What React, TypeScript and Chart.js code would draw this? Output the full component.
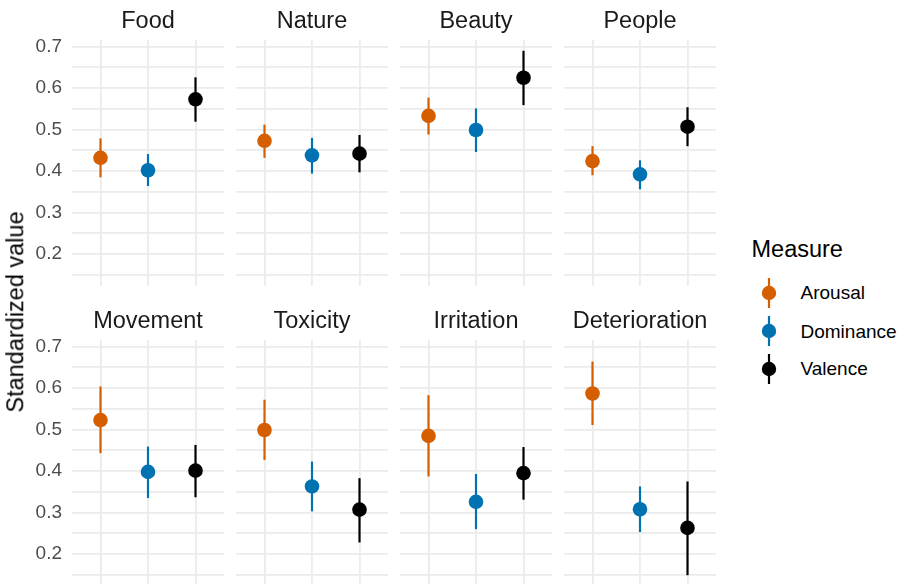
import React, { useEffect, useRef } from 'react';
import { Chart, registerables } from 'chart.js';

Chart.register(...registerables);

// ---------------- data ----------------
const facets = ['Food', 'Nature', 'Beauty', 'People', 'Movement', 'Toxicity', 'Irritation', 'Deterioration'];
const measures = ['Arousal', 'Dominance', 'Valence'];
const measureColors = ['#D55E00', '#0072B2', '#000000'];

const arousalMean = [0.432, 0.473, 0.533, 0.424, 0.523, 0.499, 0.485, 0.587];
const arousalLow = [0.385, 0.432, 0.488, 0.390, 0.443, 0.427, 0.387, 0.511];
const arousalHigh = [0.479, 0.512, 0.577, 0.460, 0.604, 0.572, 0.583, 0.664];

const dominanceMean = [0.402, 0.438, 0.499, 0.392, 0.398, 0.363, 0.326, 0.308];
const dominanceLow = [0.364, 0.394, 0.446, 0.356, 0.335, 0.303, 0.260, 0.253];
const dominanceHigh = [0.441, 0.480, 0.551, 0.426, 0.459, 0.423, 0.393, 0.363];

const valenceMean = [0.573, 0.442, 0.625, 0.507, 0.401, 0.307, 0.395, 0.263];
const valenceLow = [0.519, 0.397, 0.559, 0.460, 0.337, 0.228, 0.331, 0.149];
const valenceHigh = [0.626, 0.487, 0.690, 0.554, 0.463, 0.383, 0.458, 0.375];

const yTicks = [0.15, 0.2, 0.25, 0.3, 0.35, 0.4, 0.45, 0.5, 0.55, 0.6, 0.65, 0.7];
const yMin = 0.123;
const yMax = 0.716;

const yTitle = 'Standardized value';
const legendTitle = 'Measure';

// ---------------- layout / style ----------------
const FONT = '"Liberation Sans", Arial, Helvetica, sans-serif';
const PANEL_LEFT0 = 72;
const PANEL_PITCH = 164;
const PANEL_W = 152;
const PANEL_H = 246;
const STRIP_H = 40;
const ROW_PITCH = 300;
const GRID = '#EBEBEB';
const GRID_W = 1.8;

function Panel({ index }: { index: number }) {
  const ref = useRef<HTMLCanvasElement>(null);
  const col = index % 4;
  const row = Math.floor(index / 4);
  const isLeft = col === 0;
  const axisW = isLeft ? PANEL_LEFT0 : 0;
  const canvasLeft = isLeft ? 0 : PANEL_LEFT0 + col * PANEL_PITCH;
  const canvasW = axisW + PANEL_W;
  const canvasTop = row * ROW_PITCH;
  const canvasH = STRIP_H + PANEL_H;

  useEffect(() => {
    const means = [arousalMean, dominanceMean, valenceMean];
    const lows = [arousalLow, dominanceLow, valenceLow];
    const highs = [arousalHigh, dominanceHigh, valenceHigh];

    const errorBars = {
      id: 'errorBars',
      beforeDatasetsDraw(chart: any) {
        const ctx = chart.ctx;
        const xs = chart.scales.x;
        const ys = chart.scales.y;
        ctx.save();
        ctx.lineWidth = 2.2;
        ctx.lineCap = 'butt';
        measures.forEach((_, k) => {
          const x = xs.getPixelForValue(k);
          ctx.strokeStyle = measureColors[k];
          ctx.beginPath();
          ctx.moveTo(x, ys.getPixelForValue(lows[k][index]));
          ctx.lineTo(x, ys.getPixelForValue(highs[k][index]));
          ctx.stroke();
        });
        ctx.restore();
      },
    };

    const strip = {
      id: 'strip',
      afterDraw(chart: any) {
        const ctx = chart.ctx;
        const a = chart.chartArea;
        ctx.save();
        ctx.font = `23.5px ${FONT}`;
        ctx.fillStyle = '#1A1A1A';
        ctx.textAlign = 'center';
        ctx.textBaseline = 'alphabetic';
        ctx.fillText(facets[index], (a.left + a.right) / 2, a.top - 11.7);
        ctx.restore();
      },
    };

    const chart = new Chart(ref.current as HTMLCanvasElement, {
      type: 'scatter',
      data: {
        datasets: measures.map((m, k) => ({
          label: m,
          data: [{ x: k, y: means[k][index] }],
          backgroundColor: measureColors[k],
          borderColor: measureColors[k],
          pointRadius: 7.3,
          pointHoverRadius: 7.3,
          borderWidth: 0,
          clip: false,
        })),
      },
      options: {
        animation: false,
        responsive: false,
        devicePixelRatio: 1,
        events: [],
        layout: { autoPadding: false, padding: { top: STRIP_H, left: 0, right: 0, bottom: 0 } },
        plugins: {
          legend: { display: false },
          tooltip: { enabled: false },
          title: { display: false },
        },
        scales: {
          x: {
            type: 'linear',
            min: -0.6,
            max: 2.6,
            afterBuildTicks: (s: any) => {
              s.ticks = measures.map((_, k) => ({ value: k }));
            },
            ticks: { display: false, autoSkip: false },
            grid: { color: GRID, lineWidth: GRID_W, drawTicks: false },
            border: { display: false },
            afterFit: (s: any) => {
              s.height = 0;
              s.paddingLeft = 0;
              s.paddingRight = 0;
            },
          },
          y: {
            type: 'linear',
            min: yMin,
            max: yMax,
            afterBuildTicks: (s: any) => {
              s.ticks = yTicks.map((v) => ({ value: v }));
            },
            ticks: {
              display: isLeft,
              autoSkip: false,
              padding: 10,
              color: '#4D4D4D',
              font: { family: FONT, size: 19 },
              callback: (v: any) => {
                const n = Math.round(Number(v) * 100);
                return n % 10 === 0 ? (n / 100).toFixed(1) : '';
              },
            },
            grid: { color: GRID, lineWidth: GRID_W, drawTicks: false },
            border: { display: false },
            afterFit: (s: any) => {
              s.width = axisW;
              s.paddingTop = 0;
              s.paddingBottom = 0;
            },
          },
        },
      } as any,
      plugins: [errorBars, strip],
    });
    return () => chart.destroy();
  }, [index]);

  return (
    <canvas
      ref={ref}
      width={canvasW}
      height={canvasH}
      style={{ position: 'absolute', left: canvasLeft, top: canvasTop, width: canvasW, height: canvasH }}
    />
  );
}

function LegendKey({ color }: { color: string }) {
  return (
    <svg width={20} height={32} style={{ position: 'absolute', left: -10, top: -16 }}>
      <line x1={10} y1={1} x2={10} y2={31} stroke={color} strokeWidth={2.2} />
      <circle cx={10} cy={16} r={7.2} fill={color} />
    </svg>
  );
}

export default function App() {
  const legendY = [292.5, 331, 368.5];
  return (
    <div
      style={{
        position: 'absolute',
        left: 0,
        top: 0,
        width: 902,
        height: 584,
        overflow: 'hidden',
        background: '#FFFFFF',
        fontFamily: FONT,
      }}
    >
      {facets.map((_, i) => (
        <Panel key={i} index={i} />
      ))}
      <div
        style={{
          position: 'absolute',
          left: 15.5,
          top: 311.5,
          transform: 'translate(-50%, -50%) rotate(-90deg)',
          fontSize: 23.5,
          lineHeight: '23.5px',
          whiteSpace: 'nowrap',
          color: '#000',
        }}
      >
        {yTitle}
      </div>
      <div
        style={{
          position: 'absolute',
          left: 751.5,
          top: 238,
          fontSize: 23.5,
          lineHeight: '23.5px',
          whiteSpace: 'nowrap',
          color: '#000',
        }}
      >
        {legendTitle}
      </div>
      {measures.map((m, k) => (
        <div key={m}>
          <div style={{ position: 'absolute', left: 769, top: legendY[k], width: 0, height: 0 }}>
            <LegendKey color={measureColors[k]} />
          </div>
          <div
            style={{
              position: 'absolute',
              left: 800.5,
              top: legendY[k] + 6.8 - 16.1,
              fontSize: 19,
              lineHeight: '19px',
              whiteSpace: 'nowrap',
              color: '#000',
            }}
          >
            {m}
          </div>
        </div>
      ))}
    </div>
  );
}
